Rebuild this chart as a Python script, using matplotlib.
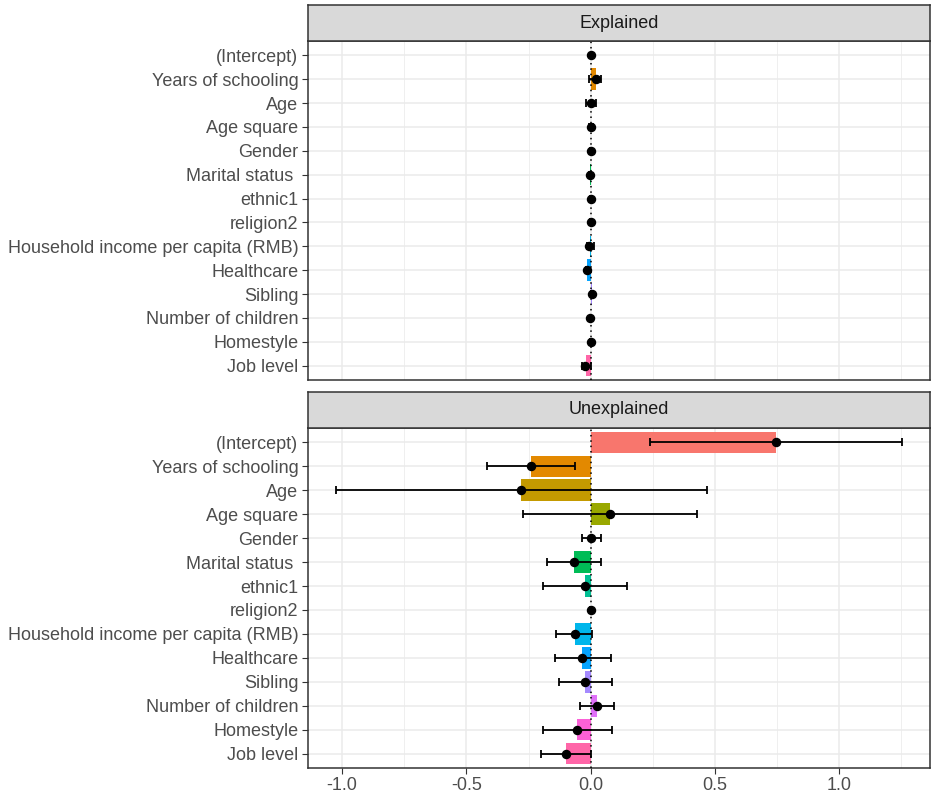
import matplotlib
matplotlib.use('Agg')
import matplotlib.pyplot as plt
import numpy as np

plt.rcParams['font.family'] = ['Liberation Sans', 'DejaVu Sans']

labels = ['(Intercept)', 'Years of schooling', 'Age', 'Age square', 'Gender',
          'Marital status ', 'ethnic1', 'religion2',
          'Household income per capita (RMB)', 'Healthcare', 'Sibling',
          'Number of children', 'Homestyle', 'Job level']

# explained part
expl_bar = [0.0, 0.022, 0.0, 0.002, 0.0, -0.003, 0.0, 0.0, -0.004, -0.013, 0.004, 0.0, 0.0, -0.019]
expl_pt = [0.0, 0.022, 0.0, 0.0, 0.0, -0.003, 0.0, 0.0, -0.005, -0.016, 0.005, -0.002, 0.0, -0.022]
expl_lo = [0.0, -0.008, -0.018, -0.008, -0.002, -0.006, -0.002, -0.001, -0.016, -0.018, 0.003, -0.004, -0.002, -0.035]
expl_hi = [0.0, 0.043, 0.022, 0.008, 0.002, 0.0, 0.002, 0.001, 0.014, -0.013, 0.007, 0.0, 0.002, 0.0]

# unexplained part
unex_bar = [0.744, -0.240, -0.279, 0.077, 0.003, -0.067, -0.023, 0.0, -0.064, -0.033, -0.023, 0.026, -0.054, -0.100]
unex_pt = [0.744, -0.240, -0.279, 0.077, 0.003, -0.067, -0.023, 0.0, -0.064, -0.033, -0.023, 0.026, -0.054, -0.100]
unex_lo = [0.238, -0.418, -1.023, -0.274, -0.034, -0.175, -0.193, -0.004, -0.139, -0.145, -0.129, -0.044, -0.193, -0.200]
unex_hi = [1.251, -0.062, 0.468, 0.426, 0.042, 0.041, 0.148, 0.004, 0.007, 0.082, 0.085, 0.095, 0.085, 0.000]

colors = ['#F8766D', '#E38900', '#C49A00', '#99A800', '#53B400', '#00BC56', '#00C094',
          '#00BFC4', '#00B6EB', '#06A4FF', '#A58AFF', '#DF70F8', '#FB61D7', '#FF66A8']

W, H = 935, 799
fs = 13
fig = plt.figure(figsize=(W / 100, H / 100), dpi=100)

left, right = 308 / W, 930 / W
panels = [('Explained', expl_bar, expl_pt, expl_lo, expl_hi, 41, 380, 5),
          ('Unexplained', unex_bar, unex_pt, unex_lo, unex_hi, 428, 768, 392)]

ypos = np.arange(len(labels))[::-1]
xmin, xmax = -1.137, 1.365

for ii, (title, bar, pt, lo, hi, ptop, pbot, stop) in enumerate(panels):
    ax = fig.add_axes([left, 1 - pbot / H, right - left, (pbot - ptop) / H])
    ax.set_xlim(xmin, xmax)
    ax.set_ylim(-0.6, len(labels) - 1 + 0.6)

    # grid
    for x in [-0.75, -0.25, 0.25, 0.75, 1.25]:
        ax.axvline(x, color='#EBEBEB', lw=0.55, zorder=0)
    for x in [-1.0, -0.5, 0.0, 0.5, 1.0]:
        ax.axvline(x, color='#EBEBEB', lw=1.1, zorder=0)
    for y in ypos:
        ax.axhline(y, color='#EBEBEB', lw=1.1, zorder=0)

    ax.barh(ypos, bar, height=0.9, color=colors, zorder=2)
    ax.axvline(0, color='black', ls=(0, (1, 2.5)), lw=1.1, zorder=3)
    pt = np.array(pt)
    ax.errorbar(pt, ypos, xerr=[pt - np.array(lo), np.array(hi) - pt], fmt='none',
                ecolor='black', elinewidth=1.3, capsize=2.8, capthick=1.3, zorder=4)
    ax.plot(pt, ypos, 'o', color='black', ms=5.8, zorder=5)

    ax.set_yticks(ypos)
    ax.set_yticklabels(labels, fontsize=fs, color='#4D4D4D')
    ax.set_xticks([-1.0, -0.5, 0.0, 0.5, 1.0])
    if ii == 1:
        ax.set_xticklabels(['-1.0', '-0.5', '0.0', '0.5', '1.0'], fontsize=fs, color='#4D4D4D')
        ax.tick_params(axis='x', length=4.5, width=0.8, color='#333333', pad=2)
    else:
        ax.tick_params(axis='x', length=0, labelbottom=False)
    ax.tick_params(axis='y', length=4.5, width=0.8, color='#333333', pad=2.5)
    for s in ax.spines.values():
        s.set_color('#333333')
        s.set_linewidth(1.1)

    # facet strip
    sax = fig.add_axes([left, 1 - ptop / H, right - left, (ptop - stop) / H])
    sax.set_facecolor('#D9D9D9')
    sax.set_xticks([])
    sax.set_yticks([])
    for s in sax.spines.values():
        s.set_color('#333333')
        s.set_linewidth(1.1)
    sax.text(0.5, 0.5, title, ha='center', va='center', fontsize=fs,
             color='#1A1A1A', transform=sax.transAxes)

fig.savefig('out.png', dpi=100)
